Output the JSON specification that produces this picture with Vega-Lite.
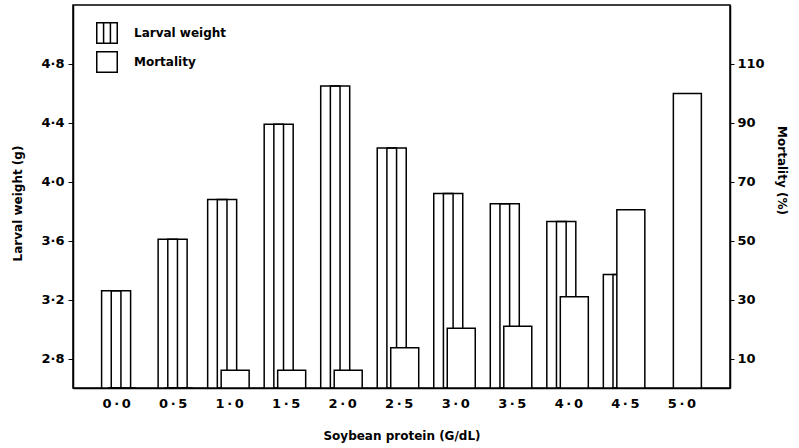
{
  "$schema": "https://vega.github.io/schema/vega-lite/v6.json",
  "width": 657,
  "height": 383,
  "autosize": {"type": "none"},
  "padding": {"left": 73, "top": 5, "right": 69, "bottom": 60},
  "background": "white",
  "config": {
    "font": "DejaVu Sans",
    "view": {"stroke": "black", "strokeWidth": 1.5},
    "axis": {
      "labelFont": "DejaVu Sans",
      "labelFontWeight": "bold",
      "labelColor": "black",
      "labelFontSize": 13,
      "titleFont": "DejaVu Sans",
      "titleFontWeight": "bold",
      "titleColor": "black",
      "titleFontSize": 12,
      "tickColor": "black",
      "domainColor": "black",
      "domainWidth": 1.5,
      "grid": false
    }
  },
  "data": {
    "values": [
      {"protein": 0.0, "weight": 3.26, "mortality": 0},
      {"protein": 0.5, "weight": 3.61, "mortality": 0},
      {"protein": 1.0, "weight": 3.88, "mortality": 6},
      {"protein": 1.5, "weight": 4.39, "mortality": 6},
      {"protein": 2.0, "weight": 4.65, "mortality": 6},
      {"protein": 2.5, "weight": 4.23, "mortality": 13.7},
      {"protein": 3.0, "weight": 3.92, "mortality": 20.3},
      {"protein": 3.5, "weight": 3.85, "mortality": 21},
      {"protein": 4.0, "weight": 3.73, "mortality": 31},
      {"protein": 4.5, "weight": 3.37, "mortality": 60.5},
      {"protein": 5.0, "weight": null, "mortality": 100}
    ]
  },
  "layer": [
    {
      "encoding": {
        "x": {
          "field": "protein",
          "type": "quantitative",
          "scale": {"domain": [-0.337, 5.386], "nice": false, "zero": false},
          "axis": {
            "values": [0, 0.5, 1, 1.5, 2, 2.5, 3, 3.5, 4, 4.5, 5],
            "labelExpr": "replace(format(datum.value, '.1f'), '.', '\u2009·\u2009')",
            "ticks": false,
            "labelPadding": 9,
            "labelFontSize": 13,
            "title": "Soybean protein (G/dL)",
            "titlePadding": 20
          }
        },
        "y": {
          "field": "weight",
          "type": "quantitative",
          "scale": {"domain": [2.6, 5.2], "nice": false, "zero": false},
          "axis": {
            "values": [2.8, 3.2, 3.6, 4.0, 4.4, 4.8],
            "labelExpr": "replace(format(datum.value, '.1f'), '.', '·')",
            "tickSize": 5,
            "labelPadding": 4,
            "title": "Larval weight (g)",
            "titlePadding": 16,
            "titleY": 198
          }
        },
        "y2": {"datum": 2.6}
      },
      "layer": [
        {
          "mark": {
            "type": "bar",
            "width": 29,
            "stroke": "black",
            "strokeWidth": 1.5,
            "xOffset": {"expr": "datum.mortality > 0 ? -7 : 0"}
          },
          "encoding": {
            "fill": {
              "datum": "Larval weight",
              "type": "nominal",
              "scale": {"domain": ["Larval weight", "Mortality"], "range": ["white", "white"]},
              "legend": {
                "orient": "none",
                "legendX": 23,
                "legendY": 17,
                "title": null,
                "padding": 0,
                "symbolType": "square",
                "symbolSize": 420,
                "symbolStrokeColor": "black",
                "symbolStrokeWidth": 1.5,
                "symbolFillColor": "white",
                "labelFont": "DejaVu Sans",
                "labelFontWeight": "bold",
                "labelFontSize": 12,
                "labelColor": "black",
                "labelOffset": 16,
                "rowPadding": 1,
                "encode": {
                  "symbols": {
                    "update": {
                      "shape": {"signal": "datum.label === 'Larval weight' ? 'M-1,-1H1V1H-1Z M-0.333,-1V1 M0.333,-1V1' : 'square'"},
                      "stroke": {"value": "black"},
                      "strokeWidth": {"value": 1.5}
                    }
                  }
                }
              }
            }
          }
        },
        {
          "mark": {
            "type": "bar",
            "width": 9.67,
            "fillOpacity": 0,
            "stroke": "black",
            "strokeWidth": 1.5,
            "xOffset": {"expr": "datum.mortality > 0 ? -7 : 0"}
          }
        }
      ]
    },
    {
      "mark": {
        "type": "bar",
        "width": 28,
        "stroke": "black",
        "strokeWidth": 1.5,
        "xOffset": 6
      },
      "encoding": {
        "x": {"field": "protein", "type": "quantitative"},
        "y": {
          "field": "mortality",
          "type": "quantitative",
          "scale": {"domain": [0, 130], "nice": false},
          "axis": {
            "orient": "right",
            "values": [10, 30, 50, 70, 90, 110],
            "tickSize": 4,
            "labelPadding": 3,
            "title": "Mortality (%)",
            "titlePadding": 10,
            "titleY": 165
          }
        },
        "fill": {"datum": "Mortality", "type": "nominal"}
      }
    }
  ],
  "resolve": {"scale": {"y": "independent"}}
}
